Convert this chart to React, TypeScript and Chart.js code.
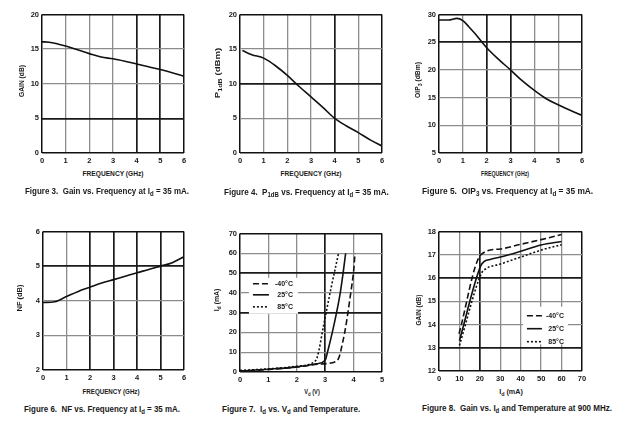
import React, { useEffect, useLayoutEffect, useRef } from "react";
import { Chart, registerables } from "chart.js";
Chart.register(...registerables);

const FONT = "'Liberation Sans', Arial, sans-serif";

// Figure 3: Gain vs Frequency
const freqGain = [0, 0.3, 1, 1.5, 2, 2.5, 3, 3.5, 4, 4.5, 5, 5.5, 6];
const gainVals = [16.05, 16.0, 15.45, 14.9, 14.35, 13.85, 13.6, 13.25, 12.85, 12.45, 12.05, 11.6, 11.1];
// Figure 4: P1dB vs Frequency
const freqP1 = [0.1, 0.5, 1, 1.5, 2, 2.5, 3, 3.5, 4, 4.5, 5, 5.5, 6];
const p1Vals = [14.8, 14.2, 13.7, 12.6, 11.2, 9.6, 8.1, 6.6, 5.0, 3.9, 2.95, 1.9, 1.0];
// Figure 5: OIP3 vs Frequency
const freqOip = [0, 0.4, 0.75, 1, 1.25, 1.5, 2, 2.5, 3, 3.5, 4, 4.5, 5, 5.5, 6];
const oipVals = [29.0, 29.0, 29.3, 28.9, 27.8, 26.6, 24.0, 21.9, 20.0, 18.0, 16.3, 14.8, 13.7, 12.7, 11.8];
// Figure 6: NF vs Frequency
const freqNf = [0, 0.5, 1, 1.5, 2, 2.5, 3, 3.5, 4, 4.5, 5, 5.5, 6];
const nfVals = [3.95, 3.97, 4.12, 4.27, 4.39, 4.51, 4.61, 4.71, 4.81, 4.9, 5.0, 5.1, 5.27];
// Figure 7: Id vs Vd and Temperature
const vdM40 = [0, 1, 2, 2.8, 3.4, 3.5, 3.6, 3.7, 3.8, 3.9, 4.0, 4.05];
const idM40 = [0.3, 1.3, 2.5, 4.0, 5.5, 8, 14, 21, 30, 40, 51, 60];
const vd25 = [0, 1, 2, 2.7, 3.0, 3.08, 3.25, 3.4, 3.53, 3.63, 3.72];
const id25 = [0.5, 1.4, 2.6, 4.2, 6, 10, 20, 30, 40, 50, 60];
const vd85 = [0, 1, 2, 2.6, 2.72, 2.95, 3.2, 3.47];
const id85 = [0.8, 1.6, 2.9, 5, 7.5, 24, 42, 60];
// Figure 8: Gain vs Id and Temperature at 900 MHz
const idGainM40 = [9.8, 20.5, 30, 40, 50, 60];
const gainM40 = [13.6, 17.0, 17.25, 17.45, 17.65, 17.87];
const idGain25 = [10, 20.3, 22, 25, 30, 40, 50, 60];
const gain25 = [13.3, 16.5, 16.7, 16.8, 16.9, 17.15, 17.42, 17.57];
const idGain85 = [10, 20.8, 23, 30, 40, 50, 60];
const gain85 = [13.1, 16.2, 16.4, 16.6, 16.9, 17.2, 17.43];
const tempLabels = ["-40°C", "25°C", "85°C"];

const pts = (xs: number[], ys: number[]) => xs.map((x, i) => ({ x, y: ys[i] }));

const PADL = 22, PADT = 6, PADR = 8, PADB = 14;

const inLegendPlugin = {
  id: "inlegend",
  beforeDatasetsDraw(chart: any, _args: any, opts: any) {
    if (!opts || !opts.show) return;
    const a = chart.chartArea;
    const W = a.right - a.left, H = a.bottom - a.top;
    const bx = a.left + opts.fx * W, by = a.top + opts.fy * H;
    const bw = opts.fw * W, bh = opts.fh * H;
    const ctx = chart.ctx;
    ctx.save();
    ctx.fillStyle = "#fff";
    ctx.fillRect(bx, by, bw, bh);
    chart.data.datasets.forEach((ds: any, i: number) => {
      const y = by + opts.rows[i];
      ctx.strokeStyle = "#111";
      ctx.lineWidth = 1.6;
      ctx.setLineDash(ds.borderDash || []);
      ctx.beginPath();
      ctx.moveTo(bx + opts.s0, y);
      ctx.lineTo(bx + opts.s1, y);
      ctx.stroke();
      ctx.setLineDash([]);
      ctx.fillStyle = "#1a1a1a";
      ctx.font = `bold 7px ${FONT}`;
      ctx.textAlign = "right";
      ctx.textBaseline = "middle";
      ctx.fillText(ds.label, bx + opts.tx, y);
    });
    ctx.restore();
  },
};

type Cfg = {
  l: number; t: number; r: number; b: number;
  xMin: number; xMax: number; xStep: number;
  yMin: number; yMax: number; yStep: number;
  heavyX: number[]; heavyY: number[];
  datasets: any[];
  legend?: any;
};

function Plot({ cfg }: { cfg: Cfg }) {
  const ref = useRef<HTMLCanvasElement>(null);
  const w = cfg.r - cfg.l + PADL + PADR;
  const h = cfg.b - cfg.t + PADT + PADB;
  useEffect(() => {
    const gc = (heavy: number[], mn: number, mx: number) => (c: any) => {
      const v = c.tick ? c.tick.value : null;
      if (v === mn || v === mx) return "#111";
      return heavy.includes(v) ? "#1a1a1a" : "#8c8c8c";
    };
    const gw = (heavy: number[], mn: number, mx: number) => (c: any) => {
      const v = c.tick ? c.tick.value : null;
      if (v === mn || v === mx) return 1.5;
      return heavy.includes(v) ? 1.7 : 1.3;
    };
    const tickFont = { family: FONT, size: 7.5, weight: "bold" as const };
    const chart = new Chart(ref.current!, {
      type: "line",
      data: { datasets: cfg.datasets },
      options: {
        responsive: false,
        animation: false,
        devicePixelRatio: 1,
        layout: { padding: { left: 0, top: PADT, right: PADR, bottom: 0 } },
        elements: { point: { radius: 0 } },
        plugins: {
          legend: { display: false },
          tooltip: { enabled: false },
          inlegend: cfg.legend ? { show: true, ...cfg.legend } : { show: false },
        } as any,
        scales: {
          x: {
            type: "linear",
            min: cfg.xMin, max: cfg.xMax,
            ticks: { stepSize: cfg.xStep, padding: 3, font: tickFont, color: "#1a1a1a", maxRotation: 0, autoSkip: false },
            grid: { drawTicks: false, color: gc(cfg.heavyX, cfg.xMin, cfg.xMax), lineWidth: gw(cfg.heavyX, cfg.xMin, cfg.xMax) },
            border: { display: false },
            afterFit: (s: any) => { s.height = PADB; },
          },
          y: {
            type: "linear",
            min: cfg.yMin, max: cfg.yMax,
            ticks: { stepSize: cfg.yStep, padding: 3, font: tickFont, color: "#1a1a1a", autoSkip: false },
            grid: { drawTicks: false, color: gc(cfg.heavyY, cfg.yMin, cfg.yMax), lineWidth: gw(cfg.heavyY, cfg.yMin, cfg.yMax) },
            border: { display: false },
            afterFit: (s: any) => { s.width = PADL; },
          },
        },
      },
      plugins: [inLegendPlugin],
    });
    return () => chart.destroy();
  }, []);
  return (
    <canvas
      ref={ref}
      width={w}
      height={h}
      style={{ position: "absolute", left: cfg.l - PADL, top: cfg.t - PADT, width: w, height: h }}
    />
  );
}

const line = (data: any[], label = "", dash: number[] = []) => ({
  label,
  data,
  borderColor: "#111",
  borderWidth: 1.6,
  borderDash: dash,
  fill: false,
  cubicInterpolationMode: "monotone",
});

const DASH = [6, 3];
const DOT = [2, 2];

const panels: Cfg[] = [
  { l: 42, t: 13, r: 184, b: 153, xMin: 0, xMax: 6, xStep: 1, yMin: 0, yMax: 20, yStep: 5, heavyX: [4, 5], heavyY: [5],
    datasets: [line(pts(freqGain, gainVals))] },
  { l: 240, t: 13, r: 382, b: 153, xMin: 0, xMax: 6, xStep: 1, yMin: 0, yMax: 20, yStep: 5, heavyX: [4], heavyY: [10],
    datasets: [line(pts(freqP1, p1Vals))] },
  { l: 439, t: 13, r: 582, b: 153, xMin: 0, xMax: 6, xStep: 1, yMin: 5, yMax: 30, yStep: 5, heavyX: [2, 3], heavyY: [25],
    datasets: [line(pts(freqOip, oipVals))] },
  { l: 43, t: 230, r: 184, b: 370, xMin: 0, xMax: 6, xStep: 1, yMin: 2, yMax: 6, yStep: 1, heavyX: [2, 3, 4, 5], heavyY: [5],
    datasets: [line(pts(freqNf, nfVals))] },
  { l: 240, t: 232, r: 382, b: 372, xMin: 0, xMax: 5, xStep: 1, yMin: 0, yMax: 70, yStep: 10, heavyX: [3], heavyY: [30, 50],
    datasets: [
      line(pts(vdM40, idM40), tempLabels[0], DASH),
      line(pts(vd25, id25), tempLabels[1]),
      line(pts(vd85, id85), tempLabels[2], DOT),
    ],
    legend: { fx: 0.063, fy: 0.32, fw: 0.345, fh: 0.26, rows: [6, 17, 29], s0: 4, s1: 20, tx: 44 } },
  { l: 439, t: 230, r: 582, b: 371, xMin: 0, xMax: 70, xStep: 10, yMin: 12, yMax: 18, yStep: 1, heavyX: [20], heavyY: [13, 16],
    datasets: [
      line(pts(idGainM40, gainM40), tempLabels[0], DASH),
      line(pts(idGain25, gain25), tempLabels[1]),
      line(pts(idGain85, gain85), tempLabels[2], DOT),
    ],
    legend: { fx: 0.587, fy: 0.539, fw: 0.315, fh: 0.27, rows: [9, 22, 35], s0: 4, s1: 19, tx: 41 } },
];

const Sub = ({ children }: { children: React.ReactNode }) => (
  <span style={{ fontSize: "75%", position: "relative", top: "0.3em" }}>{children}</span>
);

// Text fitted to a measured width from the reference (condensed look)
function Txt({ x, y, rot, size, left, fit, children }: { x: number; y: number; rot?: boolean; size: number; left?: boolean; fit: number; children: React.ReactNode }) {
  const ref = useRef<HTMLDivElement>(null);
  useLayoutEffect(() => {
    const el = ref.current!;
    const s = fit / el.offsetWidth;
    el.style.transform = left
      ? `translateY(-50%) scaleX(${s})`
      : `translate(-50%,-50%)${rot ? " rotate(-90deg)" : ""} scaleX(${s})`;
  }, []);
  return (
    <div
      ref={ref}
      style={{
        position: "absolute",
        left: x,
        top: y,
        transformOrigin: left ? "left center" : "center center",
        transform: left ? "translateY(-50%)" : `translate(-50%,-50%)${rot ? " rotate(-90deg)" : ""}`,
        fontFamily: FONT,
        fontWeight: "bold",
        fontSize: size,
        lineHeight: 1,
        whiteSpace: "pre",
        color: "#1a1a1a",
      }}
    >
      {children}
    </div>
  );
}

export default function App() {
  return (
    <div style={{ position: "fixed", left: 0, top: 0, width: 620, height: 428, background: "#fff", overflow: "hidden" }}>
      {panels.map((p, i) => (
        <Plot key={i} cfg={p} />
      ))}
      {/* y-axis titles */}
      <Txt x={22} y={81} rot size={7.5} fit={32}>GAIN (dB)</Txt>
      <Txt x={218} y={73} rot size={7.5} fit={50}>P<Sub>1dB</Sub> (dBm)</Txt>
      <Txt x={418} y={80} rot size={7.5} fit={36}>OIP<Sub>3</Sub> (dBm)</Txt>
      <Txt x={20} y={298} rot size={7.5} fit={27}>NF (dB)</Txt>
      <Txt x={217} y={300} rot size={7.5} fit={23}>I<Sub>d</Sub> (mA)</Txt>
      <Txt x={419} y={310} rot size={7.5} fit={31}>GAIN (dB)</Txt>
      {/* x-axis titles */}
      <Txt x={113} y={174} size={7.5} fit={61}>FREQUENCY (GHz)</Txt>
      <Txt x={311} y={174} size={7.5} fit={61}>FREQUENCY (GHz)</Txt>
      <Txt x={505} y={174} size={7.5} fit={48}>FREQUENCY (GHz)</Txt>
      <Txt x={111} y={392} size={7.5} fit={57}>FREQUENCY (GHz)</Txt>
      <Txt x={312} y={392} size={7.5} fit={16}>V<Sub>d</Sub> (V)</Txt>
      <Txt x={511} y={392} size={7.5} fit={24}>I<Sub>d</Sub> (mA)</Txt>
      {/* captions */}
      <Txt x={25} y={191} left size={9} fit={164}>Figure 3.  Gain vs. Frequency at I<Sub>d</Sub> = 35 mA.</Txt>
      <Txt x={224} y={192} left size={9} fit={165}>Figure 4.  P<Sub>1dB</Sub> vs. Frequency at I<Sub>d</Sub> = 35 mA.</Txt>
      <Txt x={422} y={191} left size={9} fit={171}>Figure 5.  OIP<Sub>3</Sub> vs. Frequency at I<Sub>d</Sub> = 35 mA.</Txt>
      <Txt x={24} y={409} left size={9} fit={156}>Figure 6.  NF vs. Frequency at I<Sub>d</Sub> = 35 mA.</Txt>
      <Txt x={222} y={409} left size={9} fit={138}>Figure 7.  I<Sub>d</Sub> vs. V<Sub>d</Sub> and Temperature.</Txt>
      <Txt x={422} y={408} left size={9} fit={190}>Figure 8.  Gain vs. I<Sub>d</Sub> and Temperature at 900 MHz.</Txt>
    </div>
  );
}
